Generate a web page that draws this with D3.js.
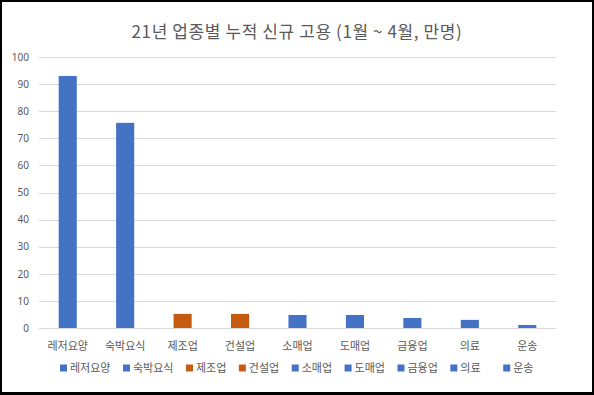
<!DOCTYPE html>
<html>
<head>
<meta charset="utf-8">
<script src="https://cdn.jsdelivr.net/npm/d3@7"></script>
<style>
  html, body { margin: 0; padding: 0; background: #000; }
  svg { display: block; }
  text { font-family: "Noto Sans CJK KR", "Noto Sans", sans-serif; }
</style>
</head>
<body>
<div id="chart"></div>
<script>
// ---- data ----
var categories = ["레저요양", "숙박요식", "제조업", "건설업", "소매업", "도매업", "금융업", "의료", "운송"];
var values = [93.0, 75.7, 5.2, 5.2, 4.8, 4.8, 3.7, 3.0, 1.1];
var groups = ["blue", "blue", "orange", "orange", "blue", "blue", "blue", "blue", "blue"];
var yTicks = [0, 10, 20, 30, 40, 50, 60, 70, 80, 90, 100];
var title = "21년 업종별 누적 신규 고용 (1월 ~ 4월, 만명)";

var W = 594, H = 395;
var colors = { blue: "#4472C4", orange: "#C55A11" };
var margin = { top: 57, right: 38, bottom: 67, left: 39 };
var iw = W - margin.left - margin.right;
var ih = H - margin.top - margin.bottom;

var svg = d3.select("#chart").append("svg").attr("width", W).attr("height", H);

// white card inside the black frame
svg.append("rect").attr("x", 2).attr("y", 2).attr("width", W - 4).attr("height", H - 5)
  .attr("fill", "#fff");

svg.append("text")
  .attr("x", 297).attr("y", 38)
  .attr("text-anchor", "middle")
  .attr("font-size", 17)
  .style("letter-spacing", "0.6px")
  .attr("fill", "#595959")
  .text(title);

var g = svg.append("g").attr("transform", "translate(" + margin.left + "," + margin.top + ")");

var x = d3.scaleBand().domain(categories).range([0, iw]).paddingInner(0.685).paddingOuter(0.3425);
var y = d3.scaleLinear().domain([0, 100]).range([ih, 0]);

// gridlines
g.append("g").selectAll("line").data(yTicks).enter().append("line")
  .attr("x1", 0).attr("x2", iw)
  .attr("y1", function (d) { return Math.round(y(d)) + 0.5; })
  .attr("y2", function (d) { return Math.round(y(d)) + 0.5; })
  .attr("stroke", "#d9d9d9").attr("stroke-width", 1);

// y axis labels
var yAx = g.append("g")
  .call(d3.axisLeft(y).tickValues(yTicks).tickSize(0).tickPadding(10));
yAx.select(".domain").remove();
yAx.selectAll("text")
  .attr("font-size", 10).attr("fill", "#595959")
  .style("font-family", "\"Noto Sans\", sans-serif");

// bars
g.append("g").selectAll("rect").data(categories).enter().append("rect")
  .attr("x", function (d) { return x(d); })
  .attr("width", x.bandwidth())
  .attr("y", function (d, i) { return y(values[i]); })
  .attr("height", function (d, i) { return ih - y(values[i]); })
  .attr("fill", function (d, i) { return colors[groups[i]]; });

// x axis labels
var xAx = g.append("g").attr("transform", "translate(0," + ih + ")")
  .call(d3.axisBottom(x).tickSize(0).tickPadding(14));
xAx.select(".domain").remove();
xAx.selectAll("text").attr("font-size", 11).attr("fill", "#595959");

// legend (short entries get the same slot as a 3-char entry, like Excel)
var leg = svg.append("g").attr("transform", "translate(0,368)");
var items = leg.selectAll("g").data(categories).enter().append("g");
items.append("rect").attr("width", 7).attr("height", 7).attr("y", -3.5)
  .attr("fill", function (d, i) { return colors[groups[i]]; });
items.append("text").attr("x", 10).attr("dy", "0.35em")
  .attr("font-size", 11).attr("fill", "#595959")
  .text(function (d) { return d; });
var minW = 0;
items.each(function (d) {
  if (d.length === 3) minW = Math.max(minW, d3.select(this).select("text").node().getComputedTextLength());
});
var cx = 60;
items.each(function () {
  var node = d3.select(this);
  node.attr("transform", "translate(" + cx + ",0)");
  cx += 10 + Math.max(minW, node.select("text").node().getComputedTextLength()) + 12.5;
});
</script>
</body>
</html>
